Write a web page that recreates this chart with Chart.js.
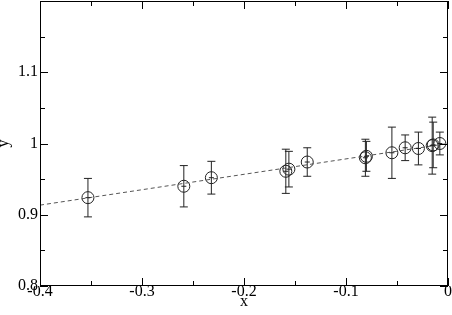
<!DOCTYPE html>
<html>
<head>
<meta charset="utf-8">
<script src="https://cdn.jsdelivr.net/npm/chart.js@4"></script>
<style>
  html, body { margin: 0; padding: 0; background: #fff; }
  #wrap { width: 452px; height: 315px; position: relative; }
</style>
</head>
<body>
<div id="wrap"><canvas id="chart"></canvas></div>
<script>
'use strict';
const xs   = [-0.353, -0.259, -0.232, -0.159, -0.156, -0.138, -0.081, -0.080, -0.055, -0.042, -0.029, -0.0155, -0.0145, -0.008];
const ys   = [0.924, 0.940, 0.952, 0.961, 0.964, 0.974, 0.980, 0.982, 0.987, 0.994, 0.993, 0.997, 0.998, 1.000];
const errs = [0.027, 0.029, 0.023, 0.031, 0.025, 0.020, 0.026, 0.021, 0.036, 0.018, 0.023, 0.040, 0.032, 0.016];
// dashed fit line end points
const fitX = [-0.4, 0];
const fitY = [0.9135, 1.0];

const FONT = 'Liberation Serif, Times New Roman, serif';
const INK = '#222';

const pts = xs.map((x, i) => ({ x, y: ys[i] }));
const fit = fitX.map((x, i) => ({ x, y: fitY[i] }));

const fmt = (v) => String(Number(v.toFixed(2)));

// error bars + inward ticks + frame
const decor = {
  id: 'decor',
  afterDatasetsDraw(chart) {
    const { ctx, chartArea: a, scales: { x: sx, y: sy } } = chart;
    ctx.save();
    ctx.strokeStyle = INK; ctx.lineWidth = 1;
    ctx.beginPath();
    xs.forEach((x, i) => {
      const px = sx.getPixelForValue(x);
      const top = sy.getPixelForValue(ys[i] + errs[i]);
      const bot = sy.getPixelForValue(ys[i] - errs[i]);
      const cy = sy.getPixelForValue(ys[i]);
      ctx.moveTo(px, top); ctx.lineTo(px, bot);
      ctx.moveTo(px - 4, top); ctx.lineTo(px + 4, top);
      ctx.moveTo(px - 4, bot); ctx.lineTo(px + 4, bot);
      ctx.moveTo(px - 2.5, cy); ctx.lineTo(px + 2.5, cy);
    });
    ctx.stroke();

    // frame
    ctx.strokeStyle = '#000';
    ctx.strokeRect(Math.round(a.left) + 0.5, Math.round(a.top) + 0.5,
      Math.round(a.right - a.left) - 1, Math.round(a.bottom - a.top) - 1);

    // ticks pointing inward on all four sides, minor every 0.05
    ctx.beginPath();
    for (let k = 0; k <= 8; k++) {
      const v = -0.4 + k * 0.05;
      const len = k % 2 === 0 ? 8 : 5;
      const px = Math.round(sx.getPixelForValue(v)) + 0.5;
      ctx.moveTo(px, a.bottom); ctx.lineTo(px, a.bottom - len);
      ctx.moveTo(px, a.top); ctx.lineTo(px, a.top + len);
    }
    for (let k = 0; k <= 8; k++) {
      const v = 0.8 + k * 0.05;
      const len = k % 2 === 0 ? 8 : 5;
      const py = Math.round(sy.getPixelForValue(v)) + 0.5;
      ctx.moveTo(a.left, py); ctx.lineTo(a.left + len, py);
      ctx.moveTo(a.right, py); ctx.lineTo(a.right - len, py);
    }
    ctx.stroke();
    ctx.restore();
  }
};

new Chart(document.getElementById('chart'), {
  type: 'scatter',
  data: {
    datasets: [
      { label: 'fit', data: fit, showLine: true, borderColor: '#555', borderWidth: 1,
        borderDash: [4, 3], pointRadius: 0, fill: false },
      { label: 'data', data: pts, pointStyle: 'circle', pointRadius: 6,
        borderColor: INK, borderWidth: 1, backgroundColor: 'rgba(0,0,0,0)' },
    ],
  },
  options: {
    responsive: true, maintainAspectRatio: false, animation: false,
    layout: { autoPadding: false, padding: { top: 1, right: 4, left: 0, bottom: 0 } },
    plugins: { legend: { display: false }, tooltip: { enabled: false } },
    scales: {
      x: {
        type: 'linear', min: -0.4, max: 0,
        afterFit: (s) => { s.height = 29; s.paddingLeft = 0; s.paddingRight = 0; },
        grid: { display: false, drawTicks: false },
        border: { display: false },
        ticks: { stepSize: 0.1, padding: -2, maxRotation: 0, autoSkip: false,
          color: '#000', font: { family: FONT, size: 16, lineHeight: 1 }, callback: fmt },
        title: { display: true, text: 'x', color: '#000', padding: { top: 0, bottom: 5 },
          font: { family: FONT, size: 16, lineHeight: 1 } },
      },
      y: {
        type: 'linear', min: 0.8, max: 1.2,
        afterFit: (s) => { s.width = 40; s.paddingTop = 0; s.paddingBottom = 0; },
        grid: { display: false, drawTicks: false },
        border: { display: false },
        ticks: { stepSize: 0.1, padding: 2, autoSkip: false, color: '#000',
          font: { family: FONT, size: 16 },
          callback: (v) => (Math.abs(v - 1.2) < 1e-6 ? '' : fmt(v)) },
        title: { display: true, text: 'y', color: '#000', padding: { top: -4, bottom: 0 },
          font: { family: FONT, size: 16, lineHeight: 1 } },
      },
    },
  },
  plugins: [decor],
});
</script>
</body>
</html>
